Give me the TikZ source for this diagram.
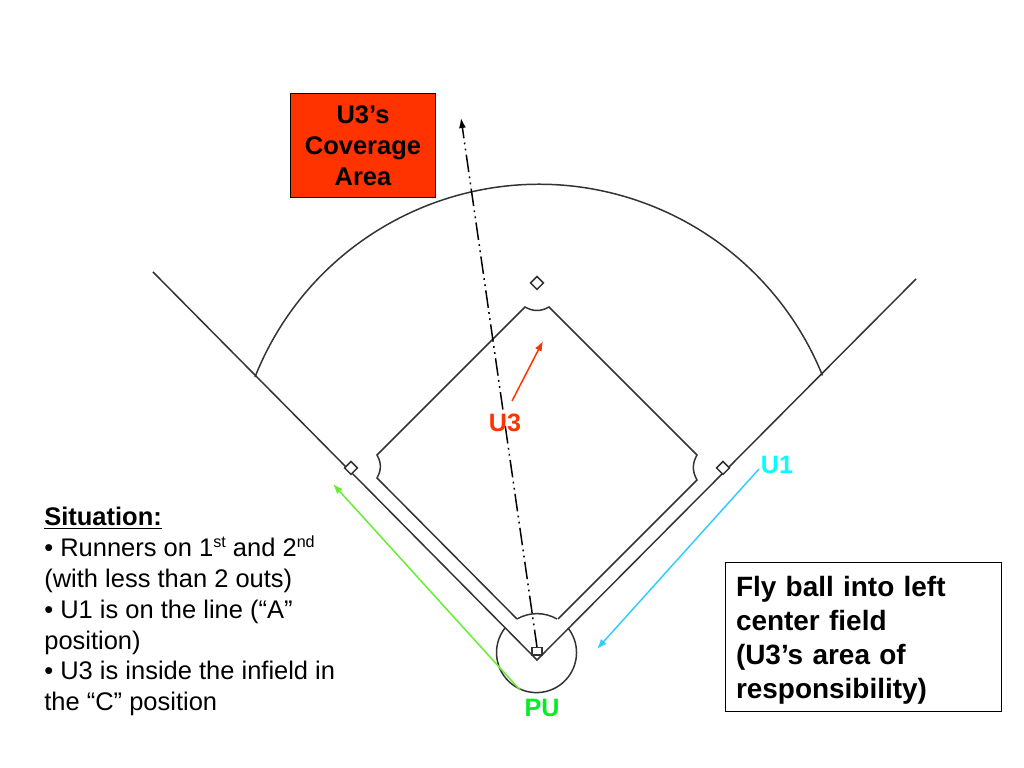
\documentclass[tikz,border=0pt]{standalone}
\usepackage{fontspec}
\setmainfont{Liberation Sans}
\usetikzlibrary{positioning, arrows.meta, shapes.geometric}
\definecolor{umpred}{RGB}{255,51,0}
\definecolor{umpcyan}{RGB}{0,255,255}
\definecolor{umpgreen}{RGB}{0,238,34}
\definecolor{arrowcyan}{RGB}{51,204,255}
\definecolor{arrowgreen}{RGB}{102,238,51}
\definecolor{fieldline}{RGB}{51,51,51}
\newcommand{\ordsup}[1]{\raisebox{0.62ex}{\fontsize{9.2}{9.2}\selectfont #1}}

\begin{document}
\begin{tikzpicture}[
                x=0.2mm, y=0.2mm,
                field/.style={draw=fieldline, line width=0.85pt},
                base/.style={diamond, draw=fieldline, line width=0.85pt, fill=white, minimum size=2.7mm, inner sep=0pt},
                plate/.style={rectangle, draw=fieldline, line width=0.85pt, fill=white, minimum width=2mm, minimum height=1.5mm, inner sep=0pt},
                umplabel/.style={font=\fontsize{14.3}{17}\selectfont\bfseries, inner sep=0pt},
                move/.style={-{Latex[length=2mm, width=1.5mm]}, line width=0.85pt},
                flight/.style={-{Latex[length=2mm, width=1.4mm]}, black, line width=0.85pt,
                  dash pattern=on 10pt off 2.5pt on 1pt off 2.5pt on 1pt off 2.5pt},
                ]
                \useasboundingbox (0,0) rectangle (1024,768);
                % Foul lines
                \coordinate (apex) at (537,108);
                \coordinate (leftend) at (153,496);
                \coordinate (rightend) at (916,489);
                \draw[field] (leftend) -- (apex) -- (rightend);
                % Outfield arc
                \coordinate (fieldL) at (255,391);
                \draw[field] (fieldL) arc[start angle=158.3, end angle=22, radius=305.7];
                % Infield
                \coordinate (homeL) at (517,149);
                \coordinate (homeR) at (558,149);
                \coordinate (thirdA) at (377,290);
                \coordinate (thirdB) at (377,313);
                \coordinate (secondA) at (525,461);
                \coordinate (secondB) at (549,461);
                \coordinate (firstA) at (697,313);
                \coordinate (firstB) at (697,288);
                \draw[field] (homeL) -- (thirdA) to[bend right=30] (thirdB) -- (secondA)
                  to[bend right=30] (secondB) -- (firstA) to[bend right=30] (firstB) -- (homeR);
                % Home plate circle
                \coordinate (circleL) at (505,140);
                \draw[field] (circleL) arc[start angle=142, end angle=398, radius=40];
                \draw[field] (homeL) arc[start angle=120, end angle=60, radius=40];
                % Bases
                \node[base] (second) at (537,485) {};
                \node[base] (first) at (723,300) {};
                \node[base] (third) at (351,300) {};
                \node[plate] (home) at (537,116.5) {};
                % Ball flight
                \coordinate (flightend) at (461,650);
                \draw[flight] (home.north) -- (flightend);
                % Umpires
                \node[umplabel, text=umpred] (u3) at (505,345) {U3};
                \node[umplabel, text=umpcyan] (u1) at (777,303) {U1};
                \node[umplabel, text=umpgreen] (pu) at (542,60) {PU};
                % Umpire moves
                \coordinate (u3start) at (512,367);
                \coordinate (u3end) at (543,427);
                \coordinate (u1start) at (759,299);
                \coordinate (u1end) at (597,119);
                \coordinate (pustart) at (520,78);
                \coordinate (puend) at (333,284);
                \draw[move, umpred] (u3start) -- (u3end);
                \draw[move, arrowcyan] (u1start) -- (u1end);
                \draw[move, arrowgreen] (pustart) -- (puend);
                % Text boxes
                \node[draw=black, fill=umpred, line width=0.55pt, minimum width=29mm, minimum height=20.7mm,
                  inner sep=0pt, align=center, font=\fontsize{14.5}{17.5}\selectfont\bfseries] (coverage) at (363,622.5)
                  {U3’s\\Coverage\\Area};
                \node[draw=black, fill=white, line width=0.55pt, minimum height=29.8mm, inner xsep=2.2mm, inner ysep=0pt,
                  text width=50.8mm, align=left, font=\fontsize{15.9}{19.3}\selectfont\bfseries] (flyball) at (863,131)
                  {\rule{0pt}{15.5pt}Fly ball into left\\center field\\(U3’s area of\\responsibility)};
                \node[anchor=west, inner sep=0pt, align=left, font=\fontsize{14.5}{17.6}\selectfont] (situation) at (44,156.5)
                  {\underline{\textbf{Situation:}}\\
                   • Runners on 1\ordsup{st} and 2\ordsup{nd}\\
                   (with less than 2 outs)\\
                   • U1 is on the line (“A”\\
                   position)\\
                   • U3 is inside the infield in\\
                   the “C” position};
              \end{tikzpicture}
\end{document}
